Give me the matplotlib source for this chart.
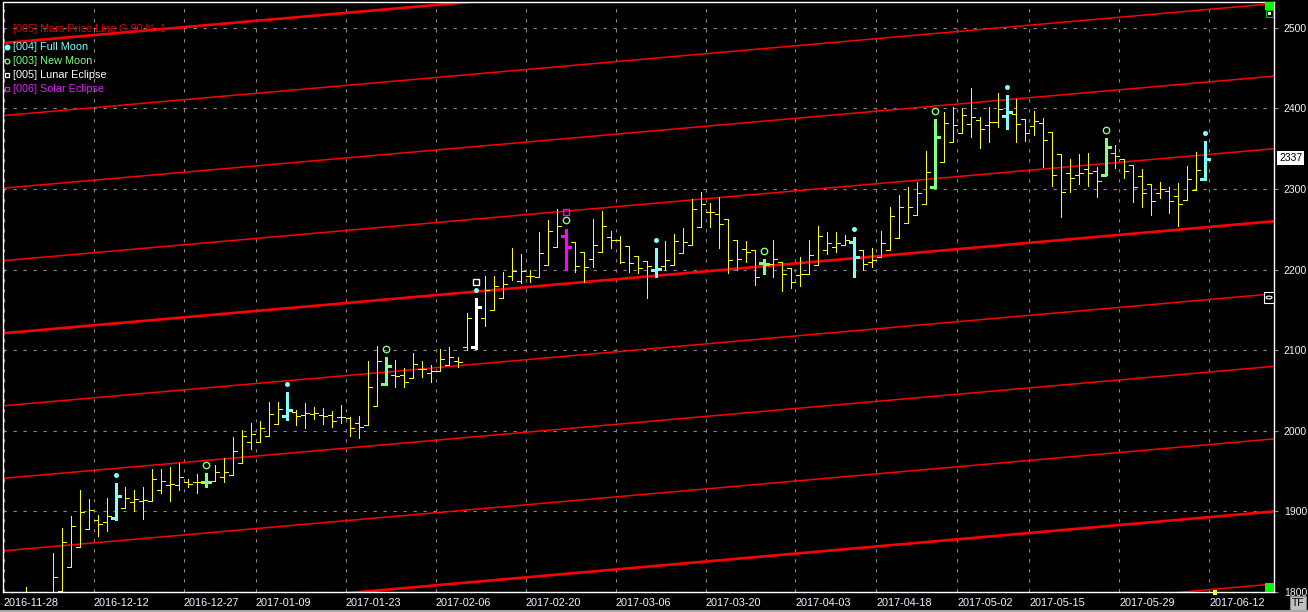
import matplotlib
matplotlib.use('Agg')
import matplotlib.pyplot as plt
import matplotlib.transforms as mtransforms
from matplotlib.collections import LineCollection
from matplotlib.patches import Rectangle, Circle
from matplotlib.lines import Line2D

plt.rcParams['font.family'] = ['Liberation Sans', 'DejaVu Sans']

# daily bars, index 0 = 2016-11-28
opens = [1780, 1785, 1778, 1790, 1782, 1790, 1801, 1831, 1856, 1878,
         1889, 1887, 1892, 1904, 1912, 1913, 1913, 1927, 1933, 1933,
         1936, 1936, 1936, 1938, 1943, 1945, 1960, 1986, 1986, 1994,
         2008, 2018, 2023, 2020, 2021, 2020, 2020, 2017, 2016, 2010,
         2007, 2031, 2058, 2069, 2069, 2066, 2077, 2072, 2074, 2082,
         2087, 2104, 2104, 2140, 2150, 2165, 2192, 2186, 2192, 2191,
         2206, 2228, 2242, 2234, 2222, 2213, 2222, 2240, 2237, 2229,
         2217, 2211, 2200, 2205, 2206, 2221, 2231, 2253, 2271, 2269,
         2263, 2237, 2226, 2224, 2208, 2207, 2209, 2202, 2193, 2195,
         2206, 2224, 2228, 2231, 2234, 2224, 2210, 2216, 2224, 2239,
         2258, 2268, 2281, 2302, 2334, 2358, 2369, 2381, 2385, 2379,
         2383, 2391, 2393, 2387, 2378, 2382, 2371, 2343, 2320, 2317,
         2325, 2322, 2317, 2345, 2337, 2330, 2316, 2306, 2295, 2298,
         2291, 2286, 2299, 2312]
highs = [1790, 1795, 1806, 1798, 1796, 1848, 1879, 1894, 1927, 1915,
         1896, 1917, 1935, 1930, 1927, 1930, 1953, 1953, 1955, 1960,
         1940, 1946, 1948, 1957, 1966, 1992, 2001, 2010, 2012, 2036,
         2036, 2048, 2026, 2034, 2029, 2028, 2025, 2032, 2017, 2018,
         2087, 2105, 2092, 2088, 2078, 2097, 2087, 2082, 2101, 2104,
         2092, 2146, 2165, 2192, 2192, 2197, 2227, 2219, 2200, 2247,
         2262, 2275, 2250, 2234, 2222, 2263, 2273, 2248, 2242, 2229,
         2217, 2211, 2227, 2235, 2244, 2252, 2288, 2296, 2283, 2290,
         2263, 2237, 2235, 2224, 2213, 2237, 2209, 2202, 2216, 2237,
         2254, 2247, 2247, 2243, 2240, 2224, 2227, 2248, 2278, 2293,
         2303, 2309, 2347, 2387, 2396, 2402, 2401, 2425, 2389, 2402,
         2419, 2417, 2412, 2387, 2397, 2388, 2371, 2343, 2337, 2343,
         2345, 2327, 2363, 2355, 2337, 2330, 2325, 2306, 2309, 2303,
         2307, 2329, 2346, 2360]
lows = [1765, 1770, 1772, 1775, 1770, 1785, 1797, 1831, 1856, 1878,
        1870, 1876, 1889, 1904, 1900, 1891, 1913, 1923, 1913, 1927,
        1930, 1923, 1930, 1938, 1936, 1945, 1960, 1977, 1986, 1994,
        2008, 2013, 2007, 2003, 2015, 2008, 2005, 2010, 1994, 1991,
        2007, 2031, 2057, 2054, 2054, 2066, 2067, 2061, 2074, 2082,
        2079, 2100, 2102, 2130, 2150, 2165, 2187, 2183, 2185, 2191,
        2206, 2228, 2200, 2197, 2185, 2203, 2222, 2227, 2208, 2197,
        2196, 2165, 2191, 2200, 2206, 2221, 2231, 2253, 2253, 2227,
        2196, 2200, 2209, 2181, 2195, 2191, 2173, 2177, 2180, 2195,
        2206, 2219, 2222, 2231, 2191, 2200, 2203, 2216, 2224, 2239,
        2258, 2268, 2281, 2301, 2334, 2358, 2369, 2365, 2351, 2358,
        2377, 2374, 2358, 2360, 2367, 2327, 2304, 2265, 2296, 2306,
        2304, 2290, 2317, 2326, 2314, 2284, 2278, 2268, 2289, 2270,
        2254, 2286, 2299, 2311]
closes = [1785, 1778, 1800, 1782, 1788, 1819, 1862, 1882, 1899, 1902,
          1884, 1894, 1919, 1917, 1915, 1914, 1940, 1938, 1934, 1943,
          1934, 1936, 1937, 1949, 1949, 1975, 1994, 1996, 2003, 2021,
          2027, 2026, 2018, 2022, 2022, 2018, 2012, 2017, 2003, 2005,
          2054, 2087, 2080, 2068, 2061, 2083, 2077, 2074, 2089, 2092,
          2085, 2140, 2154, 2175, 2180, 2182, 2198, 2198, 2192, 2221,
          2248, 2254, 2228, 2205, 2203, 2230, 2254, 2237, 2209, 2208,
          2202, 2205, 2201, 2212, 2235, 2234, 2275, 2281, 2271, 2257,
          2212, 2213, 2222, 2191, 2207, 2213, 2195, 2185, 2195, 2218,
          2242, 2233, 2233, 2237, 2216, 2207, 2212, 2233, 2267, 2278,
          2278, 2295, 2321, 2365, 2382, 2379, 2392, 2389, 2374, 2383,
          2399, 2396, 2381, 2370, 2384, 2361, 2317, 2296, 2314, 2320,
          2320, 2310, 2352, 2341, 2322, 2302, 2295, 2285, 2300, 2285,
          2281, 2312, 2324, 2337]

full_moon = [12, 31, 52, 72, 94, 111, 133]
new_moon = [22, 42, 62, 84, 103, 122]
lunar_eclipse = [52]
solar_eclipse = [62]

date_pos = [-0.5, 9.5, 19.5, 27.5, 37.5, 47.5, 57.5, 67.5, 77.5, 87.5,
            96.5, 105.5, 113.5, 123.5, 133.5]
date_labels = ['2016-11-28', '2016-12-12', '2016-12-27', '2017-01-09',
               '2017-01-23', '2017-02-06', '2017-02-20', '2017-03-06',
               '2017-03-20', '2017-04-03', '2017-04-18', '2017-05-02',
               '2017-05-15', '2017-05-29', '2017-06-12']

# Mars price line: base line end values, harmonics every 90
mars_x = [-0.556, 140.667]
mars_base = [2121, 2260]
mars_offsets = [-450, -360, -270, -180, -90, 0, 90, 180, 270, 360]

last_price = 2337

W, H = 1308, 612
YELLOW = '#ffff00'
CYAN = '#80ffff'
GREEN = '#80ff80'
MAGENTA = '#ff00ff'
RED = '#ff0000'
LABEL = '#eef6ff'


def fx(x):
    return x / W


def fy(y):
    return 1 - y / H


fig = plt.figure(figsize=(W / 100, H / 100), dpi=100, facecolor='black')
ax = fig.add_axes([fx(3), fy(592), 1271 / W, 590 / H])
ax.set_facecolor('black')
ax.set_xlim(mars_x[0], mars_x[1])
ax.set_ylim(1800, 2532)

# grid
ax.set_yticks(range(1800, 2600, 100))
ax.set_xticks(date_pos)
ax.set_xticklabels(date_labels, ha='left')
ax.grid(True, color='#8a8a8a', linestyle=(0, (3, 6)), linewidth=0.8)
ax.set_axisbelow(True)

# mars lines
for off in mars_offsets:
    thick = off % 360 == 0
    ax.plot(mars_x, [mars_base[0] + off, mars_base[1] + off], color=RED,
            lw=1.9 if thick else 1.1, zorder=2)

# bar colors
colors = [YELLOW] * len(opens)
for k in new_moon:
    colors[k] = GREEN
for k in full_moon:
    colors[k] = CYAN
for k in solar_eclipse:
    colors[k] = MAGENTA
for k in lunar_eclipse:
    colors[k] = 'white'

plain, special, special_cols = [], [], []
for k in range(len(opens)):
    if colors[k] == YELLOW:
        tl = 0.4
        plain += [[(k, lows[k]), (k, highs[k])],
                  [(k - tl, opens[k]), (k, opens[k])],
                  [(k, closes[k]), (k + tl, closes[k])]]
    else:
        tl = 0.55
        special += [[(k, lows[k]), (k, highs[k])],
                    [(k - tl, opens[k]), (k, opens[k])],
                    [(k, closes[k]), (k + tl, closes[k])]]
        special_cols += [colors[k]] * 3

ax.add_collection(LineCollection(plain, colors=YELLOW, linewidths=0.5,
                                 antialiaseds=False, zorder=3))
ax.add_collection(LineCollection(special, colors=special_cols, linewidths=2.0,
                                 antialiaseds=False, zorder=4))

# moon / eclipse markers above the bars
for k in full_moon:
    ax.plot(k, highs[k] + 10, 'o', color=CYAN, ms=3.6, mew=0, zorder=5)
for k in new_moon:
    y = highs[k] + (10 if k not in solar_eclipse else 11)
    ax.plot(k, y, 'o', mfc='none', mec=GREEN, ms=4.6, mew=1.0, zorder=5)
for k in lunar_eclipse:
    ax.plot(k, highs[k] + 20, 's', mfc='none', mec='white', ms=4.6, mew=1.0, zorder=5)
for k in solar_eclipse:
    ax.plot(k, highs[k] + 21, 's', mfc='none', mec=MAGENTA, ms=4.6, mew=1.0, zorder=5)

# axes styling
ax.yaxis.set_ticks_position('right')
ax.tick_params(axis='y', which='both', left=False, right=True, labelleft=False,
               labelright=True, length=3, color='#909090', pad=4,
               labelcolor=LABEL, labelsize=7.5)
ax.tick_params(axis='x', length=0, pad=4, labelcolor=LABEL, labelsize=7.8)
for side in ['top', 'right', 'bottom']:
    ax.spines[side].set_color('white')
    ax.spines[side].set_linewidth(1.0)
ax.spines['left'].set_color('white')
ax.spines['left'].set_linestyle((0, (4, 1)))
ax.spines['left'].set_linewidth(1.0)

# last price tag
trans = mtransforms.blended_transform_factory(ax.transAxes, ax.transData)
ax.text(1 + 5 / 1271, last_price + 1, str(last_price), transform=trans,
        ha='left', va='center', color='black', fontsize=7.5,
        bbox=dict(fc='white', ec='none', pad=1.4), clip_on=False)

# legend
fig.text(fx(13), fy(29), '[005] Mars Price Line G 90 N -1', color='#e00000',
         fontsize=7.8, va='center', ha='left')
legend_rows = [('[004] Full Moon', CYAN, 'o', CYAN, 47),
               ('[003] New Moon', GREEN, 'o', 'none', 61),
               ('[005] Lunar Eclipse', 'white', 's', 'none', 75),
               ('[006] Solar Eclipse', '#e020ff', 's', 'none', 89)]
for text, col, mk, fill, ypx in legend_rows:
    mcol = MAGENTA if col == '#e020ff' else col
    fig.add_artist(Line2D([fx(7)], [fy(ypx)], transform=fig.transFigure,
                          marker=mk, ms=3.4, mec=mcol,
                          mfc=mcol if fill != 'none' else 'none', mew=0.9))
    fig.text(fx(13), fy(ypx), text, color=col, fontsize=7.8, va='center', ha='left')


# chart widgets in the corners
def rect_px(x0, y0, x1, y1, **kw):
    fig.add_artist(Rectangle((fx(x0), fy(y1)), (x1 - x0) / W, (y1 - y0) / H,
                             transform=fig.transFigure, **kw))


rect_px(1265, 2, 1274, 10, fc='#00ff00', ec='none')
rect_px(1266, 10, 1273, 17, fc='black', ec='#00c000', lw=0.8)
rect_px(1268, 12, 1271, 15, fc='white', ec='none')
rect_px(1265, 583, 1274, 592, fc='#00ff00', ec='none')
rect_px(1264, 292, 1274, 303, fc='black', ec='white', lw=0.8)
fig.add_artist(Circle((fx(1269), fy(297.5)), 3 / W, transform=fig.transFigure,
                      fc='none', ec='white', lw=0.8))
rect_px(1213, 590, 1217, 595, fc=YELLOW, ec='none')
rect_px(1290, 596, 1306, 610, fc='#c0c0c0', ec='#808080', lw=0.8)
fig.text(fx(1298), fy(603.5), 'TF', color='black', fontsize=7.5,
         ha='center', va='center')
rect_px(0, 610, 1308, 612, fc='#a8a8a8', ec='none')

fig.savefig('out.png', dpi=100, facecolor='black')
